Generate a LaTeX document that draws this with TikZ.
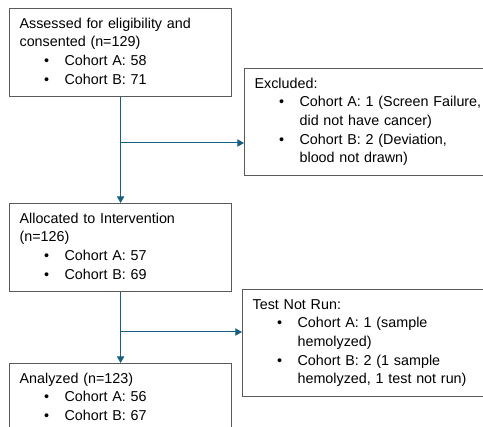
\documentclass[tikz,border=0pt]{standalone}
\usepackage{fontspec}
\setmainfont{Liberation Sans}
\usepackage{xcolor}
\usepackage{tikz}
\usetikzlibrary{arrows.meta}
\usetikzlibrary{calc}
\definecolor{flowblue}{HTML}{156082}
\definecolor{boxgray}{HTML}{5A5A5A}
\newcommand{\bul}{\strut\hspace*{18.4pt}\makebox[15.35pt][l]{\textbullet}}
\newcommand{\cnt}{\strut\hspace*{33.75pt}}

\begin{document}
\begin{tikzpicture}[x=0.75pt,y=-0.75pt,
  box/.style={draw=boxgray,line width=0.9pt,anchor=north west,align=left,inner xsep=7.5pt,inner ysep=5pt,font=\fontsize{10.75pt}{14pt}\selectfont},
  leftbox/.style={box,text width=151.5pt},
  rightbox/.style={box,text width=180pt},
  flow/.style={draw=flowblue,line width=0.75pt},
  arr/.style={flow,-{Triangle[length=5pt,width=5.5pt]}}]
\clip (0,0) rectangle (483,427);
\node[leftbox] (assess) at (9,8) {\strut Assessed for eligibility and\\ \strut consented (n=129)\\ \bul Cohort A: 58\\ \bul Cohort B: 71};
\node[rightbox] (excl) at (244,68) {\strut Excluded:\\ \bul Cohort A: 1 (Screen Failure,\\ \cnt did not have cancer)\\ \bul Cohort B: 2 (Deviation,\\ \cnt blood not drawn)};
\node[leftbox] (alloc) at (9,203) {\strut Allocated to Intervention\\ \strut (n=126)\\ \bul Cohort A: 57\\ \bul Cohort B: 69};
\node[rightbox] (notrun) at (242,289) {\strut Test Not Run:\\ \bul Cohort A: 1 (sample\\ \cnt hemolyzed)\\ \bul Cohort B: 2 (1 sample\\ \cnt hemolyzed, 1 test not run)};
\node[leftbox] (anal) at (9,363) {\strut Analyzed (n=123)\\ \bul Cohort A: 56\\ \bul Cohort B: 67};
\coordinate (split1) at (120,143);
\coordinate (split2) at (120,332);
\draw[arr] (assess.south) -- (alloc.north);
\draw[arr] (split1) -- (split1 -| excl.west);
\draw[arr] (alloc.south) -- (anal.north);
\draw[arr] (split2) -- (split2 -| notrun.west);
\end{tikzpicture}
\end{document}
